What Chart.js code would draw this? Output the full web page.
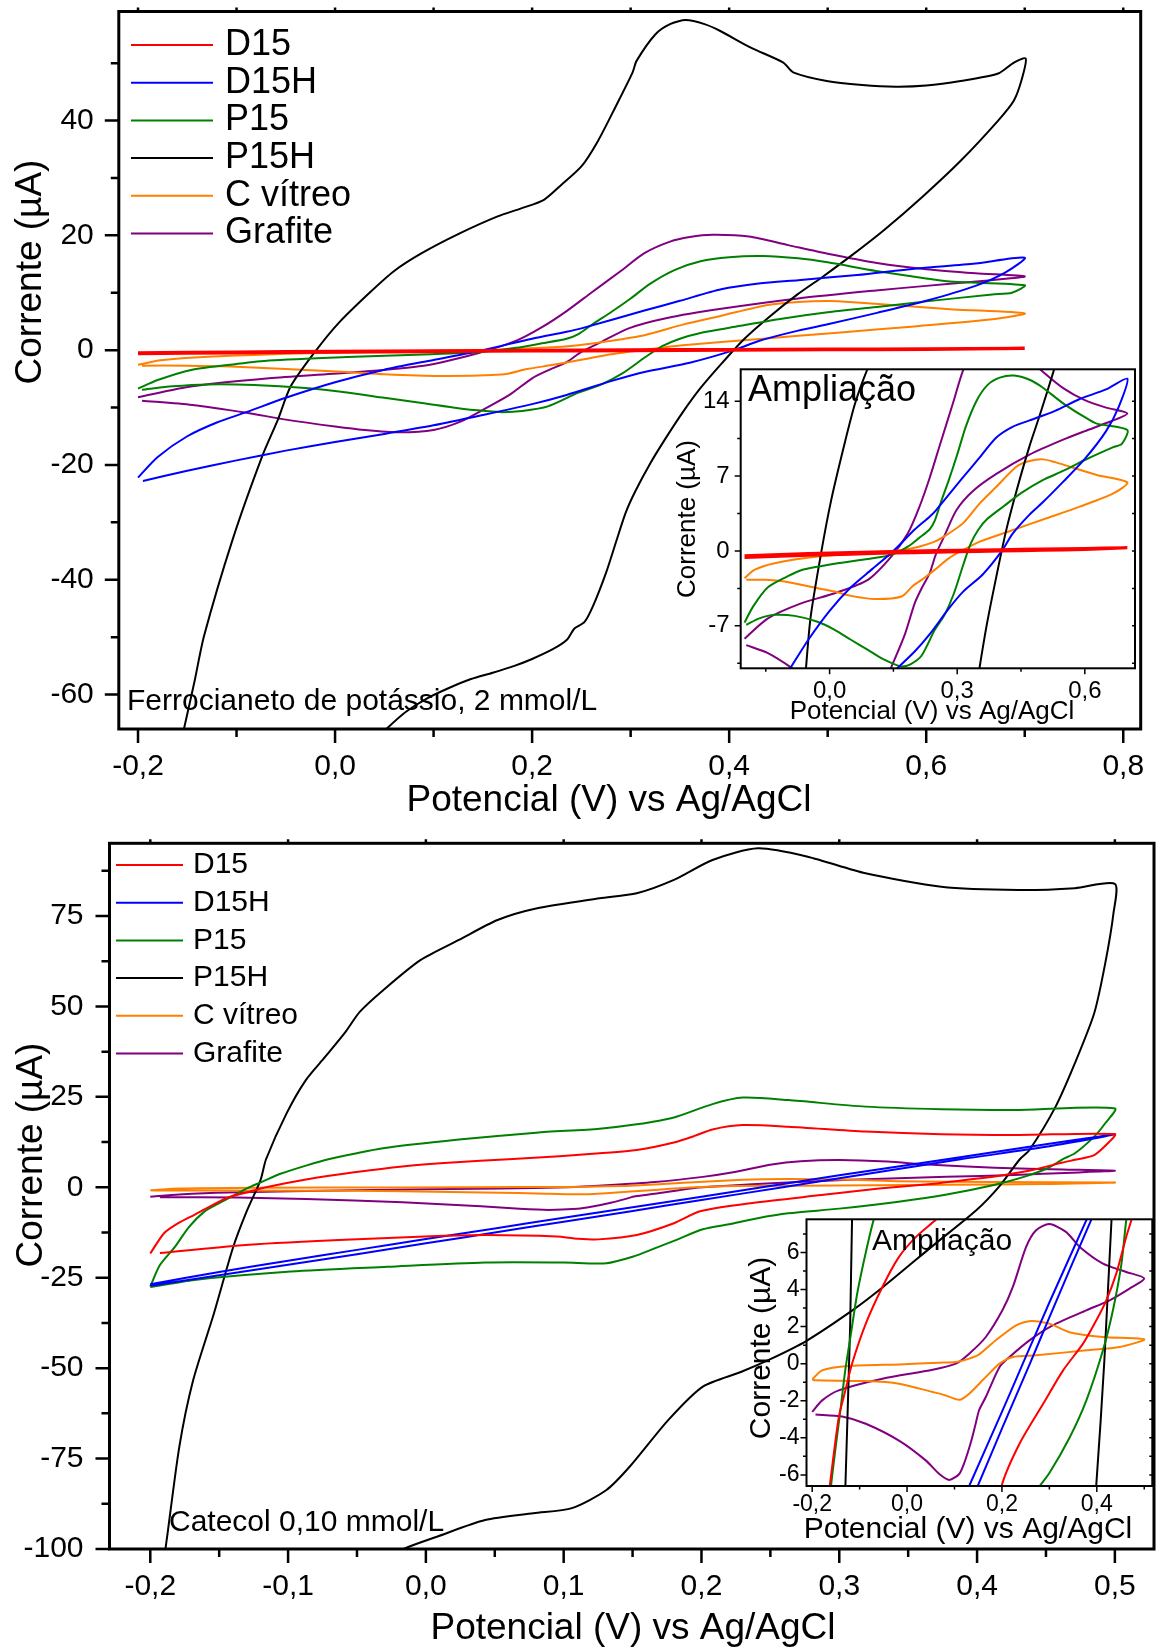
<!DOCTYPE html>
<html lang="pt">
<head>
<meta charset="UTF-8">
<title>Voltametria cíclica</title>
<script src="https://cdn.jsdelivr.net/npm/chart.js@4.4.0/dist/chart.umd.min.js"></script>
<style>
  body { margin: 0; background: #fff; }
  #wrap { position: relative; width: 1157px; height: 1650px; }
  #wrap canvas { position: absolute; left: 0; top: 0; }
</style>
</head>
<body>
<div id="wrap">
  <canvas id="feMain" width="1157" height="1650"></canvas>
  <canvas id="caMain" width="1157" height="1650"></canvas>
  <canvas id="feZoom" width="1157" height="1650"></canvas>
  <canvas id="caZoom" width="1157" height="1650"></canvas>
</div>
<script>
const series = ['D15', 'D15H', 'P15', 'P15H', 'C vítreo', 'Grafite'];
const colors = ['#ff0000', '#0000ff', '#008000', '#000000', '#ff8000', '#800080'];

// Ferrocianeto de potássio: [potencial V, corrente µA], forward then reverse scan
const feD15 = [[-0.2,-0.45],[-0.1,-0.32],[0,-0.2],[0.1,-0.1],[0.2,-0.02],[0.3,0.06],[0.4,0.11],[0.5,0.17],[0.6,0.23],[0.7,0.3],
  [0.6,0.14],[0.5,0.07],[0.4,0],[0.3,-0.07],[0.2,-0.15],[0.1,-0.24],[0,-0.34],[-0.1,-0.46],[-0.2,-0.6]];
const feD15H = [[-0.2,-22.2],[-0.18,-18.6],[-0.15,-15],[-0.12,-12.6],[-0.09,-10.8],[-0.05,-8.3],[0,-5.6],[0.05,-3.4],[0.1,-1.7],[0.15,0],[0.2,2],[0.235,3.2],[0.25,3.8],[0.314,6.9],[0.35,8.6],[0.392,10.6],[0.43,11.6],[0.47,12.2],[0.53,13.1],[0.588,14.2],[0.65,15.1],[0.7,16.1],
  [0.68,13.5],[0.65,11.2],[0.6,8.6],[0.55,6.5],[0.5,4.5],[0.47,3.4],[0.43,1.6],[0.405,0],[0.36,-2.2],[0.314,-3.8],[0.28,-5.4],[0.235,-7.8],[0.2,-9.4],[0.15,-11.3],[0.1,-13.1],[0.05,-14.6],[0,-16],[-0.05,-17.5],[-0.1,-19.2],[-0.15,-21],[-0.195,-22.8]];
const feP15 = [[-0.2,-6.7],[-0.18,-5.2],[-0.145,-3.4],[-0.1,-2.4],[-0.067,-1.8],[0.012,-1.2],[0.09,-0.75],[0.145,-0.37],[0.184,0.4],[0.21,1.2],[0.235,2],[0.247,2.8],[0.262,4.6],[0.28,6.6],[0.3,9],[0.32,11.6],[0.345,14],[0.371,15.5],[0.4,16.2],[0.434,16.4],[0.47,16],[0.5,15.3],[0.549,13.8],[0.6,12.5],[0.628,11.9],[0.7,11.3],
  [0.687,10],[0.667,9.7],[0.6,8.5],[0.55,7.5],[0.5,6.6],[0.45,5.4],[0.41,4.2],[0.371,3],[0.35,2],[0.332,0.7],[0.315,-1.2],[0.292,-4],[0.27,-6],[0.247,-7.4],[0.216,-9.8],[0.19,-10.6],[0.17,-10.8],[0.153,-10.6],[0.125,-10.1],[0.09,-9.24],[0.05,-8.3],[0.012,-7.37],[-0.03,-6.6],[-0.082,-6.07],[-0.129,-5.97],[-0.165,-6.3],[-0.196,-6.9]];
const feP15H = [[-0.168,-78],[-0.153,-65.7],[-0.143,-58],[-0.133,-49.8],[-0.104,-33],[-0.074,-18.5],[-0.058,-12.1],[-0.045,-6.3],[-0.02,-0.2],[0.004,4.8],[0.035,10],[0.06,13.8],[0.088,16.9],[0.126,20.3],[0.165,23.3],[0.189,24.7],[0.212,26.2],[0.229,28.7],[0.25,32],[0.267,36.5],[0.285,42.5],[0.302,48.4],[0.306,50.4],[0.325,55],[0.34,56.8],[0.356,57.5],[0.375,56.8],[0.391,55.6],[0.422,52.7],[0.455,50.1],[0.465,48.4],[0.499,46.9],[0.535,46.2],[0.569,45.9],[0.6,46.1],[0.635,46.9],[0.673,48.2],[0.689,50.1],[0.701,50.8],
  [0.697,47.2],[0.689,43.5],[0.673,40],[0.635,33],[0.596,26.7],[0.557,20.9],[0.525,16.6],[0.495,12.8],[0.47,9.8],[0.44,5.7],[0.415,1.9],[0.392,-2.4],[0.37,-6.8],[0.353,-10.8],[0.335,-15.5],[0.32,-19.7],[0.305,-24.5],[0.295,-28.3],[0.285,-33.5],[0.275,-38.8],[0.262,-44.5],[0.253,-47.4],[0.243,-48.5],[0.235,-50.5],[0.221,-52.1],[0.2,-53.8],[0.182,-55],[0.16,-56.2],[0.138,-57.3],[0.115,-58.9],[0.093,-60.7],[0.072,-63],[0.054,-65.7],[0.035,-69]];
const feCV = [[-0.2,-2.55],[-0.177,-1.77],[-0.129,-1.15],[-0.028,-0.53],[0.09,-0.16],[0.169,0.09],[0.21,0.4],[0.247,0.87],[0.275,1.5],[0.314,2.6],[0.353,4.45],[0.392,6],[0.439,7.87],[0.47,8.4],[0.502,8.56],[0.53,8.3],[0.565,7.87],[0.628,7.1],[0.7,6.4],
  [0.667,5.38],[0.588,4.14],[0.51,3.05],[0.431,1.96],[0.353,0.87],[0.314,0.09],[0.28,-0.7],[0.247,-1.77],[0.22,-2.6],[0.195,-3.3],[0.169,-4.26],[0.106,-4.5],[0.05,-4.2],[0.012,-3.8],[-0.05,-3.3],[-0.106,-2.86],[-0.15,-2.7],[-0.196,-2.7]];
const feGraf = [[-0.2,-8.2],[-0.145,-6.3],[-0.067,-4.9],[0.012,-3.95],[0.09,-2.7],[0.145,-0.53],[0.184,1.65],[0.21,4],[0.235,6.8],[0.26,10],[0.29,13.8],[0.314,16.9],[0.34,18.9],[0.36,19.7],[0.383,20.1],[0.42,19.8],[0.46,18.3],[0.5,16.8],[0.55,15.2],[0.6,14.1],[0.65,13.4],[0.7,12.85],
  [0.66,12.1],[0.6,11.2],[0.549,10.4],[0.47,9],[0.392,7.2],[0.337,5.6],[0.298,3.8],[0.271,1.5],[0.25,-0.3],[0.235,-2.1],[0.215,-3.6],[0.2,-4.9],[0.177,-7.8],[0.15,-10.4],[0.128,-12.4],[0.1,-13.9],[0.065,-14.3],[0.03,-13.9],[0,-13.3],[-0.05,-12.1],[-0.09,-10.9],[-0.145,-9.55],[-0.196,-8.8]];

// Catecol 0,10 mmol/L
const caD15 = [[-0.2,-18.3],[-0.19,-12.7],[-0.18,-10],[-0.168,-7.6],[-0.163,-6.6],[-0.144,-2.9],[-0.13,-1.44],[-0.116,0],[-0.087,2.16],[-0.052,4.14],[-0.017,5.76],[0.019,6.84],[0.06,7.75],[0.097,8.6],[0.126,9.4],[0.153,10.3],[0.18,12.4],[0.195,14.2],[0.208,16],[0.23,17.2],[0.263,16.75],[0.319,15.4],[0.374,14.65],[0.43,14.46],[0.5,14.7],
  [0.496,12.6],[0.485,8.9],[0.473,7.75],[0.462,6.84],[0.441,4.86],[0.42,3.42],[0.399,2.34],[0.371,1.08],[0.329,-0.36],[0.287,-2.16],[0.237,-4.32],[0.199,-6.63],[0.18,-9.95],[0.153,-13.2],[0.125,-14.4],[0.11,-14.2],[0.095,-13.6],[0.043,-13.2],[0.008,-13.5],[-0.063,-14.6],[-0.133,-16],[-0.193,-18.2]];
const caD15H = [[-0.2,-26.8],[-0.15,-23.4],[-0.1,-20.3],[-0.05,-17.3],[0,-14.3],[0.05,-11.4],[0.1,-8.4],[0.131,-6.6],[0.2,-2.6],[0.244,0],[0.3,3.3],[0.378,7.75],[0.45,11.9],[0.5,14.6],
  [0.45,11.2],[0.388,7.75],[0.3,2.5],[0.259,0],[0.2,-3.5],[0.149,-6.6],[0.1,-9.5],[0.05,-12.5],[0,-15.5],[-0.05,-18.5],[-0.1,-21.4],[-0.15,-24.3],[-0.2,-27.2]];
const caP15 = [[-0.2,-27.4],[-0.193,-21.5],[-0.182,-16.4],[-0.172,-11],[-0.161,-6.8],[-0.151,-4.6],[-0.14,-2.4],[-0.13,-0.3],[-0.119,1.5],[-0.105,3.8],[-0.087,6],[-0.07,7.8],[-0.031,10.8],[0.024,13.2],[0.08,15.1],[0.126,16.2],[0.153,17.4],[0.18,19.3],[0.208,23],[0.23,24.8],[0.263,24.1],[0.319,22.3],[0.374,21.6],[0.43,21.4],[0.5,21.8],
  [0.493,17.7],[0.485,14],[0.471,9.4],[0.462,7.75],[0.452,5.4],[0.434,2.88],[0.413,0.72],[0.378,-1.98],[0.343,-3.97],[0.3,-5.9],[0.263,-7.2],[0.24,-8.6],[0.22,-10.2],[0.201,-11.6],[0.18,-14.8],[0.166,-16.9],[0.15,-19.2],[0.131,-21],[0.1,-20.8],[0.043,-20.8],[-0.028,-22],[-0.098,-23.3],[-0.168,-25.6],[-0.2,-27.6]];
const caP15H = [[-0.192,-106],[-0.189,-100],[-0.179,-71.9],[-0.169,-53.5],[-0.154,-35.1],[-0.14,-16.7],[-0.13,-6.6],[-0.12,2],[-0.116,7.75],[-0.101,20.5],[-0.087,29.7],[-0.073,36.1],[-0.059,42.6],[-0.048,48.5],[-0.031,54.5],[-0.004,62.8],[0.024,68.4],[0.052,73.9],[0.08,77.1],[0.126,79.9],[0.153,81.3],[0.18,85],[0.208,90.5],[0.241,93.7],[0.277,91.4],[0.319,86.8],[0.374,83.1],[0.43,82.2],[0.471,82.7],[0.5,83.9],
  [0.499,75.8],[0.493,61.9],[0.485,48.1],[0.471,34.3],[0.457,22.3],[0.438,10.3],[0.431,7.75],[0.416,0.2],[0.399,-6.5],[0.37,-15.5],[0.332,-27.5],[0.31,-33.9],[0.276,-42.5],[0.25,-47.5],[0.229,-51],[0.201,-55.1],[0.176,-64.3],[0.148,-77.2],[0.131,-83.7],[0.106,-88.7],[0.078,-90.1],[0.043,-92],[0.008,-96.6],[-0.015,-99.8],[-0.03,-103]];
const caCV = [[-0.2,-0.85],[-0.179,-0.36],[-0.123,-0.13],[-0.017,-0.04],[0.067,0.05],[0.103,0.09],[0.131,0.27],[0.152,0.5],[0.187,1.26],[0.23,2.07],[0.261,2.3],[0.3,2.16],[0.342,1.7],[0.413,1.44],[0.5,1.31],
  [0.448,0.9],[0.378,0.72],[0.272,0.45],[0.223,0.36],[0.195,0],[0.166,-0.72],[0.131,-1.62],[0.11,-1.95],[0.08,-1.7],[0.054,-1.53],[-0.017,-1.08],[-0.087,-0.94],[-0.193,-0.9],[-0.2,-0.85]];
const caGraf = [[-0.2,-2.6],[-0.179,-1.98],[-0.144,-1.44],[-0.052,-0.81],[0.054,-0.33],[0.103,0],[0.131,0.54],[0.166,1.44],[0.201,2.88],[0.223,4.14],[0.251,6.3],[0.272,7.2],[0.3,7.53],[0.335,7.11],[0.364,6.3],[0.413,5.4],[0.462,4.95],[0.5,4.6],
  [0.469,4.05],[0.427,3.42],[0.378,2.88],[0.307,2.07],[0.258,1.26],[0.216,0.36],[0.195,-0.18],[0.166,-1.8],[0.152,-2.5],[0.145,-3.2],[0.135,-4.2],[0.12,-5.4],[0.11,-5.95],[0.089,-6.27],[0.068,-5.95],[0.04,-5.23],[-0.017,-4.15],[-0.087,-3.24],[-0.137,-2.85],[-0.193,-2.74]];

const feData = [feD15, feD15H, feP15, feP15H, feCV, feGraf];
const caData = [caD15, caD15H, caP15, caP15H, caCV, caGraf];

// tick values
const feXTicks = [-0.2, 0, 0.2, 0.4, 0.6, 0.8];
const feXMinor = [-0.1, 0.1, 0.3, 0.5, 0.7];
const feYTicks = [-60, -40, -20, 0, 20, 40];
const feYMinor = [-50, -30, -10, 10, 30, 50];
const caXTicks = [-0.2, -0.1, 0, 0.1, 0.2, 0.3, 0.4, 0.5];
const caXMinor = [-0.15, -0.05, 0.05, 0.15, 0.25, 0.35, 0.45];
const caYTicks = [-100, -75, -50, -25, 0, 25, 50, 75];
const caYMinor = [-87.5, -62.5, -37.5, -12.5, 12.5, 37.5, 62.5, 87.5];
const feZXTicks = [0, 0.3, 0.6];
const feZXMinor = [-0.15, 0.15, 0.45];
const feZYTicks = [-7, 0, 7, 14];
const feZYMinor = [-10.5, -3.5, 3.5, 10.5];
const caZXTicks = [-0.2, 0, 0.2, 0.4];
const caZXMinor = [-0.1, 0.1, 0.3, 0.5];
const caZYTicks = [-6, -4, -2, 0, 2, 4, 6];
const caZYMinor = [-5, -3, -1, 1, 3, 5, 7];

const FONT = '"Liberation Sans", Arial, sans-serif';
Chart.defaults.font.family = FONT;
Chart.defaults.color = '#000';

const fmtX = v => v.toFixed(1).replace('.', ',');
const fmtY = v => String(v);

// scale box size is fixed so the chart area lands where the original plot frame is
function axis(range, ticks, size, pad, fmt, horiz, box) {
  return {
    type: 'linear', min: range[0], max: range[1],
    grid: { display: false, drawTicks: false },
    border: { display: false },
    title: { display: false },
    ticks: { color: '#000', font: { size: size }, padding: pad, autoSkip: false,
             maxRotation: 0, minRotation: 0, callback: v => fmt(v) },
    afterBuildTicks: s => { s.ticks = ticks.map(v => ({ value: v })); },
    afterFit: s => {
      if (horiz) s.height = box; else s.width = box;
      s.paddingLeft = s.paddingRight = s.paddingTop = s.paddingBottom = 0;
    }
  };
}

// frame, tick marks, legend and loose texts
function decor(c) {
  return {
    id: 'decor',
    afterDatasetsDraw(chart) {
      const ctx = chart.ctx, a = chart.chartArea;
      const sx = chart.scales.x, sy = chart.scales.y, m = c.marks;
      ctx.save();
      ctx.strokeStyle = '#000';
      ctx.lineWidth = m.tickWidth;
      ctx.beginPath();
      const vx = (list, y0, y1) => list.forEach(v => {
        const p = sx.getPixelForValue(v); ctx.moveTo(p, y0); ctx.lineTo(p, y1);
      });
      const hy = (list, x0, x1) => list.forEach(v => {
        const p = sy.getPixelForValue(v); ctx.moveTo(x0, p); ctx.lineTo(x1, p);
      });
      vx(c.xTicks, a.bottom, a.bottom + m.major);
      vx(m.xMinor, a.bottom, a.bottom + m.minor);
      hy(c.yTicks, a.left, a.left - m.major);
      hy(m.yMinor, a.left, a.left - m.minor);
      if (m.top) vx(m.top, a.top, a.top - m.edge);
      if (m.right) hy(m.right, a.right, a.right - m.edge);
      ctx.stroke();
      ctx.lineWidth = m.frame;
      ctx.strokeRect(a.left, a.top, a.right - a.left, a.bottom - a.top);

      ctx.fillStyle = '#000';
      ctx.textBaseline = 'middle';
      if (c.legend) {
        const L = c.legend;
        ctx.font = L.size + 'px ' + FONT;
        ctx.textAlign = 'left';
        chart.data.datasets.forEach((d, i) => {
          const y = L.y0 + i * L.dy;
          ctx.strokeStyle = d.borderColor;
          ctx.lineWidth = 2;
          ctx.beginPath(); ctx.moveTo(L.x1, y); ctx.lineTo(L.x2, y); ctx.stroke();
          ctx.fillText(d.label, L.tx, y);
        });
      }
      c.texts.forEach(t => {
        ctx.save();
        ctx.font = t.s + 'px ' + FONT;
        ctx.textAlign = t.a || 'center';
        ctx.translate(t.x, t.y);
        if (t.r) ctx.rotate(t.r * Math.PI / 180);
        ctx.fillText(t.t, 0, 0);
        ctx.restore();
      });
      ctx.restore();
    }
  };
}

function makeChart(id, data, c) {
  const p = c.pad;
  return new Chart(document.getElementById(id), {
    type: 'scatter',
    data: {
      datasets: series.map((name, i) => ({
        label: name,
        data: data[i].map(q => ({ x: q[0], y: q[1] })),
        borderColor: colors[i],
        backgroundColor: colors[i],
        borderWidth: (i === 0 && c.redWidth) ? c.redWidth : 2,
        showLine: true,
        pointRadius: 0,
        tension: 0.25
      }))
    },
    options: {
      responsive: false, animation: false, events: [],
      layout: {
        padding: { left: p.left - c.yBox, top: p.top, right: p.right, bottom: p.bottom - c.xBox },
        autoPadding: false
      },
      scales: {
        x: axis(c.xRange, c.xTicks, c.tickSize, c.xPad, fmtX, true, c.xBox),
        y: axis(c.yRange, c.yTicks, c.tickSize, c.yPad, fmtY, false, c.yBox)
      },
      plugins: { legend: { display: false }, tooltip: { enabled: false } }
    },
    plugins: [decor(c)]
  });
}

makeChart('feMain', feData, {
  pad: { left: 118.8, top: 11.5, right: 16.3, bottom: 921 }, yBox: 110, xBox: 60,
  xRange: [-0.2195, 0.8177], yRange: [-66, 59],
  xTicks: feXTicks, yTicks: feYTicks, tickSize: 30, xPad: 20, yPad: 25, redWidth: 3.2,
  marks: { xMinor: feXMinor, yMinor: feYMinor, major: 14, minor: 8, tickWidth: 2.5, frame: 3,
           top: feXTicks.concat(feXMinor), edge: 4 },
  legend: { x1: 131, x2: 213, tx: 225, y0: 45, dy: 37.7, size: 36 },
  texts: [
    { t: 'Corrente (µA)', x: 31, y: 272, s: 37, r: -90 },
    { t: 'Potencial (V) vs Ag/AgCl', x: 609, y: 801, s: 37 },
    { t: 'Ferrocianeto de potássio, 2 mmol/L', x: 127, y: 702, s: 30, a: 'left' }
  ]
});

makeChart('caMain', caData, {
  pad: { left: 109.5, top: 843.3, right: 3, bottom: 101 }, yBox: 100, xBox: 60,
  xRange: [-0.2296, 0.5284], yRange: [-100, 95.1],
  xTicks: caXTicks, yTicks: caYTicks, tickSize: 30, xPad: 20, yPad: 26,
  marks: { xMinor: caXMinor, yMinor: caYMinor, major: 14, minor: 8, tickWidth: 2.5, frame: 3,
           top: caXTicks, edge: 4 },
  legend: { x1: 116, x2: 183, tx: 193, y0: 865, dy: 37.7, size: 30 },
  texts: [
    { t: 'Corrente (µA)', x: 32, y: 1155, s: 37, r: -90 },
    { t: 'Potencial (V) vs Ag/AgCl', x: 633, y: 1629, s: 37 },
    { t: 'Catecol 0,10 mmol/L', x: 169, y: 1523, s: 30, a: 'left' }
  ]
});

makeChart('feZoom', feData, {
  pad: { left: 740.7, top: 369.3, right: 22, bottom: 981.7 }, yBox: 50, xBox: 40,
  xRange: [-0.209, 0.718], yRange: [-10.97, 16.98],
  xTicks: feZXTicks, yTicks: feZYTicks, tickSize: 24, xPad: 9, yPad: 11, redWidth: 3.2,
  marks: { xMinor: feZXMinor, yMinor: feZYMinor, major: 6, minor: 3.5, tickWidth: 1.5, frame: 2,
           right: feZYTicks.concat(feZYMinor), edge: 3 },
  texts: [
    { t: 'Ampliação', x: 748, y: 391, s: 36, a: 'left' },
    { t: 'Corrente (µA)', x: 688, y: 519, s: 26, r: -90 },
    { t: 'Potencial (V) vs Ag/AgCl', x: 932, y: 712, s: 26 }
  ]
});

makeChart('caZoom', caData, {
  pad: { left: 806.5, top: 1219.3, right: 4.7, bottom: 164 }, yBox: 50, xBox: 35,
  xRange: [-0.212, 0.517], yRange: [-6.6, 7.79],
  xTicks: caZXTicks, yTicks: caZYTicks, tickSize: 23, xPad: 5, yPad: 7,
  marks: { xMinor: caZXMinor, yMinor: caZYMinor, major: 6, minor: 3.5, tickWidth: 1.5, frame: 2,
           right: caZYTicks.concat(caZYMinor), edge: 3 },
  texts: [
    { t: 'Ampliação', x: 872, y: 1242, s: 30, a: 'left' },
    { t: 'Corrente (µA)', x: 762, y: 1348, s: 30, r: -90 },
    { t: 'Potencial (V) vs Ag/AgCl', x: 968, y: 1530, s: 30 }
  ]
});
</script>
</body>
</html>
